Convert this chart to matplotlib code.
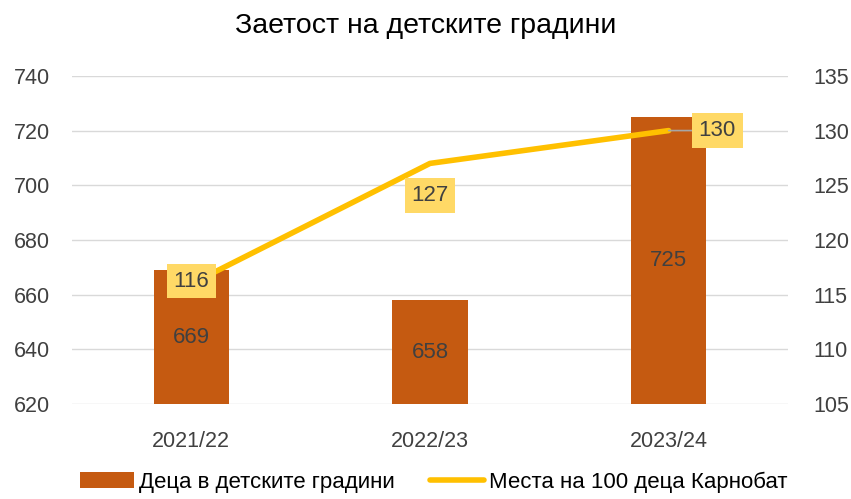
import matplotlib.pyplot as plt
import numpy as np

plt.rcParams['font.family'] = ['Liberation Sans', 'DejaVu Sans']

# data
years = ['2021/22', '2022/23', '2023/24']
children = [669, 658, 725]
places = [116, 127, 130]

bar_color = '#C55A11'
line_color = '#FFC000'
box_color = '#FFD966'
text_color = '#404040'


def main():
    fig = plt.figure(figsize=(8.51, 4.99), dpi=100)
    ax = fig.add_axes([0.0846, 0.19, 0.8414, 0.658])
    ax2 = ax.twinx()

    x = np.arange(len(years))
    ax.bar(x, children, width=0.315, color=bar_color, zorder=2,
           label='Деца в детските градини')

    ax.set_xlim(-0.5, 2.5)
    ax.set_ylim(620, 740)
    ax.set_yticks(np.arange(620, 741, 20))
    ax2.set_ylim(105, 135)
    ax2.set_yticks(np.arange(105, 136, 5))

    ax.grid(axis='y', color='#D9D9D9', linewidth=1, zorder=0)
    ax.set_axisbelow(True)
    for a in (ax, ax2):
        for s in a.spines.values():
            s.set_visible(False)
        a.tick_params(length=0, labelsize=15.5, labelcolor=text_color)
    ax.tick_params(axis='y', pad=16)
    ax2.tick_params(axis='y', pad=18)
    ax.set_xticks(x)
    ax.set_xticklabels(years)
    ax.tick_params(axis='x', pad=19)

    # bar labels, centred in the bar
    for xi, v in zip(x, children):
        ax.text(xi, (620 + v) / 2, str(v), ha='center', va='center',
                fontsize=16, color=text_color, zorder=3)

    ax2.plot(x, places, color=line_color, linewidth=4, solid_capstyle='round',
             zorder=3, label='Места на 100 деца Карнобат')

    box = dict(boxstyle='square,pad=0.3', fc=box_color, ec='none')
    offsets = [(0, 2), (0, -23), (35, 0)]
    for xi, v, off in zip(x, places, offsets):
        arrow = None
        if off[0] > 0:
            arrow = dict(arrowstyle='-', color='#A6A6A6', lw=1.2,
                         shrinkA=0, shrinkB=0)
        ax2.annotate(str(v), (xi, v), xytext=off, textcoords='offset points',
                     ha='center', va='center', fontsize=16, color=text_color,
                     bbox=box, arrowprops=arrow, zorder=4)

    fig.text(0.5, 0.948, 'Заетост на детските градини', ha='center',
             va='center', fontsize=20.5, color='black')

    h1, l1 = ax.get_legend_handles_labels()
    h2, l2 = ax2.get_legend_handles_labels()
    fig.legend(h1 + h2, l1 + l2, loc='center', bbox_to_anchor=(0.51, 0.034),
               ncol=2, frameon=False, fontsize=16, handlelength=2.4,
               columnspacing=1.6, handletextpad=0.25, labelcolor='black',
               borderpad=0.2)

    fig.savefig('out.png', dpi=100)


if __name__ == '__main__':
    main()
